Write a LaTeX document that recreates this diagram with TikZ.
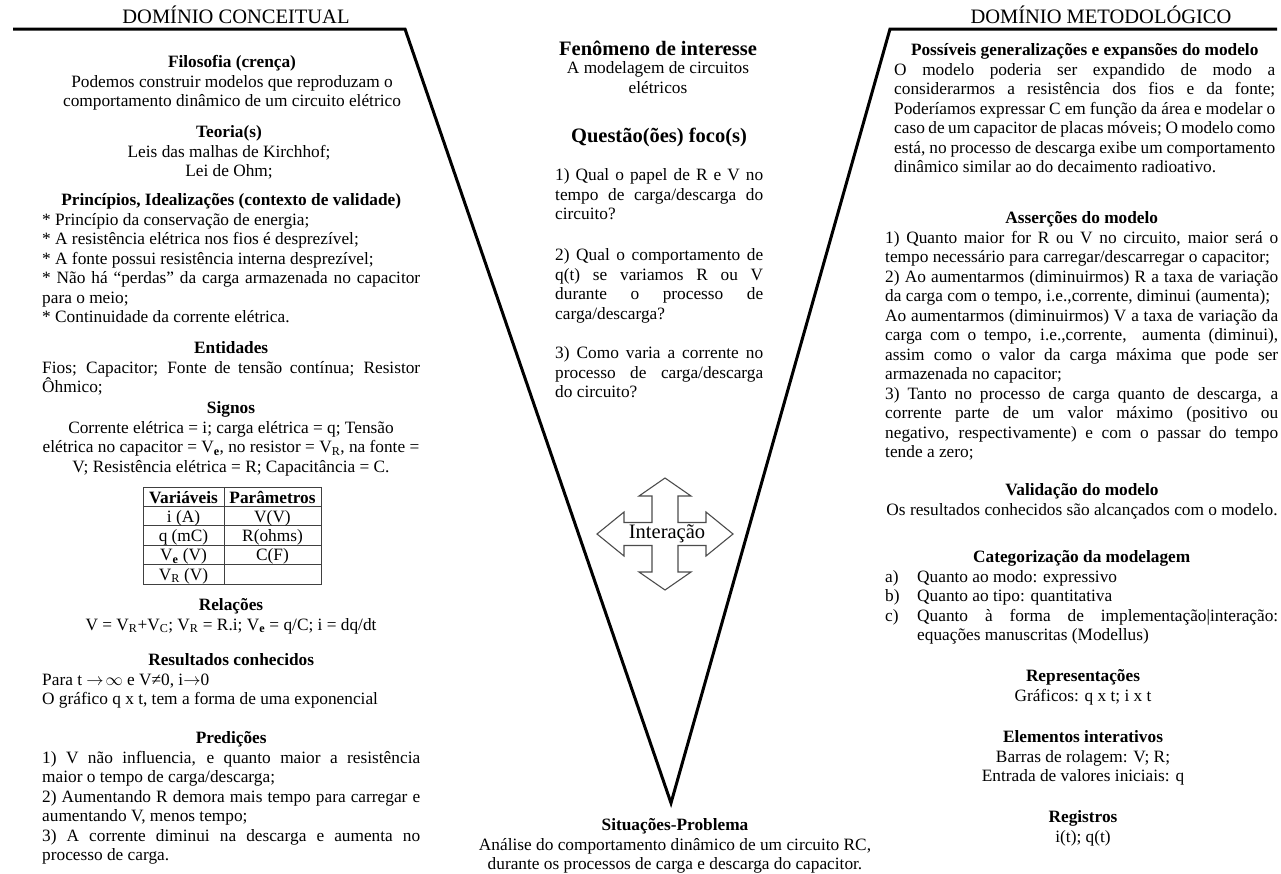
\documentclass[tikz,border=0pt]{standalone}
\usepackage{fontspec}
\setmainfont{Liberation Serif}
\newcommand\fs{\fontsize{17.3}{19.5}\selectfont}
\newcommand\fbig{\fontsize{20.5}{24}\selectfont}
\newcommand\jl[2]{\makebox[#1][s]{#2}}
\newcommand\cl[2]{\makebox[#1]{#2}}
\newcommand\sbe{\textsubscript{\textbf{e}}}
\newcommand\sbr{\textsubscript{R}}
\begin{document}
\begin{tikzpicture}[x=1pt,y=-1pt,
  blk/.style={inner sep=0pt,font=\fs,align=left,anchor=north west},
  cblk/.style={inner sep=0pt,font=\fs,align=center,anchor=north},
  bigtxt/.style={inner sep=0pt,font=\fbig,anchor=base},
  vline/.style={line width=3pt,black},
  crossarrow/.style={draw=black!70,line width=1.1pt,fill=white},
  tabline/.style={draw=black!75,line width=0.9pt},
  tcell/.style={inner sep=0pt,font=\fs,anchor=base}]
\useasboundingbox (0,0) rectangle (1281,873);
% V shape
\draw[vline] (13,29) -- (405,29) -- (671,803) -- (890,29) -- (1277,29);
% headers
\node[bigtxt] (hl) at (236,23) {DOMÍNIO CONCEITUAL};
\node[bigtxt] (hr) at (1101,23) {DOMÍNIO METODOLÓGICO};
% ---------- left column ----------
\node[cblk] (filo) at (232,54) {\strut\textbf{Filosofia (crença)}\\Podemos construir modelos que reproduzam o\\comportamento dinâmico de um circuito elétrico};
\node[cblk] (teo) at (229,124) {\strut\textbf{Teoria(s)}\\Leis das malhas de Kirchhof;\\Lei de Ohm;};
\node[blk] (princ) at (42,192) {\strut\cl{378pt}{\textbf{Princípios, Idealizações (contexto de validade)}}\\
* Princípio da conservação de energia;\\
* A resistência elétrica nos fios é desprezível;\\
* A fonte possui resistência interna desprezível;\\
\jl{378pt}{* Não há “perdas” da carga armazenada no capacitor}\\
para o meio;\\
* Continuidade da corrente elétrica.};
\node[blk] (ent) at (42,340) {\strut\cl{378pt}{\textbf{Entidades}}\\
\jl{378pt}{Fios; Capacitor; Fonte de tensão contínua; Resistor}\\
Ôhmico;};
\node[cblk] (sig) at (231,400) {\strut\textbf{Signos}\\Corrente elétrica = i; carga elétrica = q; Tensão\\elétrica no capacitor = V\sbe, no resistor = V\sbr, na fonte =\\V; Resistência elétrica = R; Capacitância = C.};
% table
\draw[tabline] (143,487) rectangle (321,584);
\draw[tabline] (224,487) -- (224,584);
\foreach \yy in {506.4,525.8,545.2,564.6} \draw[tabline] (143,\yy) -- (321,\yy);
\node[tcell] (t11) at (183.5,503) {\textbf{Variáveis}};
\node[tcell] (t12) at (272.5,503) {\textbf{Parâmetros}};
\node[tcell] (t21) at (183.5,522) {i (A)};
\node[tcell] (t22) at (272.5,522) {V(V)};
\node[tcell] (t31) at (183.5,541.4) {q (mC)};
\node[tcell] (t32) at (272.5,541.4) {R(ohms)};
\node[tcell] (t41) at (183.5,560.8) {V\sbe{} (V)};
\node[tcell] (t42) at (272.5,560.8) {C(F)};
\node[tcell] (t51) at (183.5,580.2) {V\sbr{} (V)};
\node[cblk] (rel) at (231,597) {\strut\textbf{Relações}\\V = V\sbr+V\textsubscript{C}; V\sbr{} = R.i; V\sbe{} = q/C; i = dq/dt};
\node[blk] (res) at (42,652) {\strut\cl{378pt}{\textbf{Resultados conhecidos}}\\Para t $\rightarrow\!\infty$ e V≠0, i$\rightarrow$0\\O gráfico q x t, tem a forma de uma exponencial};
\node[blk] (pred) at (42,730) {\strut\cl{378pt}{\textbf{Predições}}\\
\jl{378pt}{1) V não influencia, e quanto maior a resistência}\\
maior o tempo de carga/descarga;\\
\jl{378pt}{2) Aumentando R demora mais tempo para carregar e}\\
aumentando V, menos tempo;\\
\jl{378pt}{3) A corrente diminui na descarga e aumenta no}\\
processo de carga.};
% ---------- centre ----------
\node[bigtxt] (fen) at (658,55) {\textbf{Fenômeno de interesse}};
\node[cblk] (fent) at (658,60) {\strut A modelagem de circuitos\\elétricos};
\node[bigtxt] (quest) at (659,142) {\textbf{Questão(ões) foco(s)}};
\node[blk] (q1) at (555,167) {\strut\jl{208pt}{1) Qual o papel de R e V no}\\\jl{208pt}{tempo de carga/descarga do}\\circuito?};
\node[blk] (q2) at (555,247) {\strut\jl{208pt}{2) Qual o comportamento de}\\\jl{208pt}{q(t) se variamos R ou V}\\\jl{208pt}{durante o processo de}\\carga/descarga?};
\node[blk] (q3) at (555,345) {\strut\jl{208pt}{3) Como varia a corrente no}\\\jl{208pt}{processo de carga/descarga}\\do circuito?};
\draw[crossarrow] (665,478) -- (691,496) -- (678,496) -- (678,522.5) -- (706,522.5) -- (706,512) -- (733,534) -- (706,556) -- (706,545.5) -- (678,545.5) -- (678,572) -- (691,572) -- (665,590) -- (639,572) -- (652,572) -- (652,545.5) -- (624,545.5) -- (624,556) -- (597,534) -- (624,512) -- (624,522.5) -- (652,522.5) -- (652,496) -- (639,496) -- cycle;
\node[inner sep=0pt,font=\fbig] (inter) at (667,534) {Interação};
\node[cblk] (sit) at (675,817) {\strut\textbf{Situações-Problema}\\Análise do comportamento dinâmico de um circuito RC,\\durante os processos de carga e descarga do capacitor.};
% ---------- right column ----------
\node[blk] (poss) at (894,42) {\strut\cl{381pt}{\textbf{Possíveis generalizações e expansões do modelo}}\\
\jl{381pt}{O modelo poderia ser expandido de modo a}\\
\jl{381pt}{considerarmos a resistência dos fios e da fonte;}\\
\jl{381pt}{Poderíamos expressar C em função da área e modelar o}\\
\jl{381pt}{caso de um capacitor de placas móveis; O modelo como}\\
\jl{381pt}{está, no processo de descarga exibe um comportamento}\\
dinâmico similar ao do decaimento radioativo.};
\node[blk] (ass) at (885,210) {\strut\cl{393pt}{\textbf{Asserções do modelo}}\\
\jl{393pt}{1) Quanto maior for R ou V no circuito, maior será o}\\
tempo necessário para carregar/descarregar o capacitor;\\
\jl{393pt}{2) Ao aumentarmos (diminuirmos) R a taxa de variação}\\
da carga com o tempo, i.e.,corrente, diminui (aumenta);\\
\jl{393pt}{Ao aumentarmos (diminuirmos) V a taxa de variação da}\\
\jl{393pt}{carga com o tempo, i.e.,corrente,\ \ aumenta (diminui),}\\
\jl{393pt}{assim como o valor da carga máxima que pode ser}\\
armazenada no capacitor;\\
\jl{393pt}{3) Tanto no processo de carga quanto de descarga, a}\\
\jl{393pt}{corrente parte de um valor máximo (positivo ou}\\
\jl{393pt}{negativo, respectivamente) e com o passar do tempo}\\
tende a zero;};
\node[cblk] (val) at (1082,482) {\strut\textbf{Validação do modelo}\\Os resultados conhecidos são alcançados com o modelo.};
\node[blk] (cat) at (885,549) {\strut\cl{393pt}{\textbf{Categorização da modelagem}}\\
\makebox[32pt][l]{a)}Quanto ao modo: expressivo\\
\makebox[32pt][l]{b)}Quanto ao tipo: quantitativa\\
\makebox[32pt][l]{c)}\jl{361pt}{Quanto à forma de implementação|interação:}\\
\hspace*{32pt}equações manuscritas (Modellus)};
\node[cblk] (rep) at (1083,668) {\strut\textbf{Representações}\\Gráficos: q x t; i x t};
\node[cblk] (elem) at (1083,729) {\strut\textbf{Elementos interativos}\\Barras de rolagem: V; R;\\Entrada de valores iniciais: q};
\node[cblk] (reg) at (1083,809) {\strut\textbf{Registros}\\i(t); q(t)};
\end{tikzpicture}
\end{document}
